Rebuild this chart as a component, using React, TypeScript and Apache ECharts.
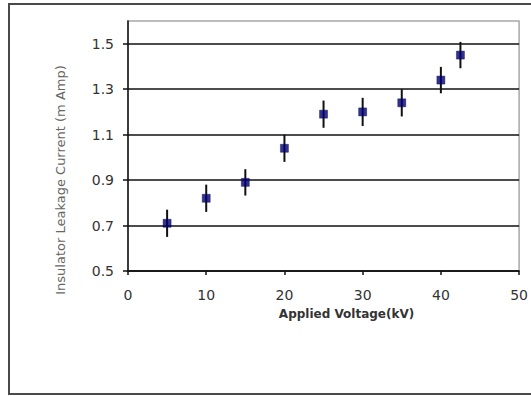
import React, { useEffect, useRef } from "react";
import * as echarts from "echarts";

const voltages = [5, 10, 15, 20, 25, 30, 35, 40, 42.5];
const currents = [0.71, 0.82, 0.89, 1.04, 1.19, 1.2, 1.24, 1.34, 1.45];
const errors = [0.06, 0.06, 0.058, 0.06, 0.06, 0.062, 0.06, 0.058, 0.058];
const yTicks = [0.5, 0.7, 0.9, 1.1, 1.3, 1.5];
const xName = "Applied Voltage(kV)";
const yName = "Insulator Leakage Current (m Amp)";

export default function App() {
  const ref = useRef<HTMLDivElement>(null);
  useEffect(() => {
    if (!ref.current) return;
    const chart = echarts.init(ref.current, undefined, { renderer: "svg" });
    const pts = voltages.map((v, i) => [v, currents[i], errors[i]]);
    chart.setOption({
      animation: false,
      backgroundColor: "#fff",
      textStyle: { fontFamily: "DejaVu Sans" },
      graphic: [
        {
          type: "rect",
          shape: { x: 9, y: 4, width: 560, height: 390 },
          style: { fill: "none", stroke: "#4a4a4a", lineWidth: 2 },
          silent: true,
        },
      ],
      grid: {
        left: 128,
        right: 9.5,
        top: 21,
        bottom: 125,
        show: true,
        borderColor: "#a8a8a8",
        borderWidth: 1.5,
        backgroundColor: "transparent",
      },
      xAxis: {
        type: "value",
        min: 0,
        max: 50,
        interval: 10,
        name: xName,
        nameLocation: "middle",
        nameGap: 37,
        nameTextStyle: {
          fontFamily: "DejaVu Sans",
          fontWeight: "bold",
          fontSize: 12,
          color: "#333",
          padding: [0, 0, 0, 46],
        },
        axisLine: { show: true, lineStyle: { color: "#111", width: 1.5 } },
        axisTick: { show: true, inside: false, length: 4, lineStyle: { color: "#111", width: 1.5 } },
        axisLabel: { fontSize: 14, color: "#333", margin: 17, fontFamily: "DejaVu Sans" },
        splitLine: { show: false },
      },
      yAxis: {
        type: "value",
        min: 0.5,
        max: 1.6,
        name: yName,
        nameLocation: "middle",
        nameRotate: 90,
        nameGap: 61,
        nameTextStyle: {
          fontFamily: "DejaVu Sans",
          fontSize: 13,
          color: "#666",
          padding: [0, 68, 0, 0],
        },
        axisLine: { show: true, lineStyle: { color: "#111", width: 1.5 } },
        axisTick: {
          show: true,
          inside: false,
          length: 5,
          customValues: yTicks,
          lineStyle: { color: "#111", width: 1.5 },
        },
        axisLabel: {
          customValues: yTicks,
          fontSize: 14,
          color: "#333",
          margin: 14,
          fontFamily: "DejaVu Sans",
          formatter: (v: number) => v.toFixed(1),
        },
        splitLine: { show: true, lineStyle: { color: "#111", width: 1.5 } },
      },
      series: [
        {
          type: "custom",
          data: pts,
          encode: { x: 0, y: 1 },
          z: 2,
          renderItem: (params: any, api: any) => {
            const x = api.value(0);
            const y = api.value(1);
            const e = api.value(2);
            const p1 = api.coord([x, y - e]);
            const p2 = api.coord([x, y + e]);
            return {
              type: "line",
              shape: { x1: p1[0], y1: p1[1], x2: p2[0], y2: p2[1] },
              style: { stroke: "#111", lineWidth: 2 },
            };
          },
        },
        {
          type: "scatter",
          data: pts.map((p) => [p[0], p[1]]),
          symbol: "rect",
          symbolSize: 8,
          z: 3,
          itemStyle: { color: "#000070", borderColor: "#000050", borderWidth: 0.5 },
        },
      ],
    });
    return () => chart.dispose();
  }, []);
  return (
    <div
      ref={ref}
      style={{ position: "fixed", left: 0, top: 0, width: 531, height: 396 }}
    />
  );
}
